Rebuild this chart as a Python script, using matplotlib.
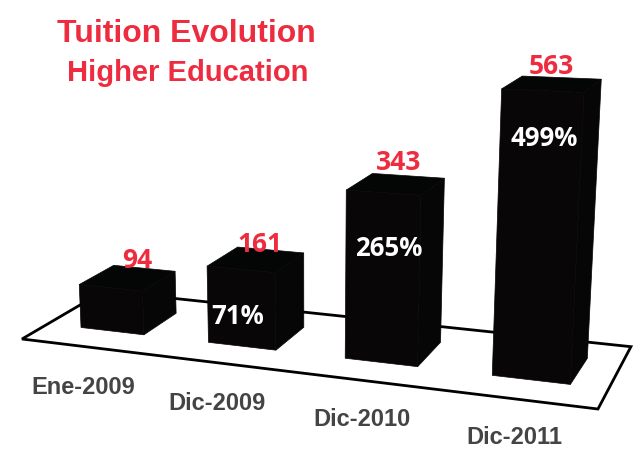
"""
Tuition evolution chart: perspective bars standing on a floor plate.
"""

import matplotlib
matplotlib.use("Agg")
import matplotlib.pyplot as plt
from matplotlib.patches import Polygon

# ── data ──────────────────────────────────────────────────────────────────────
categories = ["Ene-2009", "Dic-2009", "Dic-2010", "Dic-2011"]
values = [94, 161, 343, 563]
growth = [None, "71%", "265%", "499%"]

# ── colours ───────────────────────────────────────────────────────────────────
C_RED = "#EE2C3F"
C_GREY = "#444444"
C_FRONT = "#080606"
C_SIDE = "#060606"
C_TOP = "#040606"

# ── perspective: floor homography, unit square -> pixels ──────────────────────
H = [[492.9, 92.0, 22.0], [13.2, -20.0, 339.0], [-0.1389, 0.09623, 1.0]]
PX_PER_UNIT = 0.466
LEAN = 0.00018   # verticals converge upwards
LEAN_X0 = 310

BAR_U0 = 0.067
BAR_STEP = 0.249
BAR_W = 0.125
BAR_V = (0.30, 0.73)


def project(u, v, z=0.0):
    w = H[2][0] * u + H[2][1] * v + H[2][2]
    x = (H[0][0] * u + H[0][1] * v + H[0][2]) / w
    y = (H[1][0] * u + H[1][1] * v + H[1][2]) / w
    h = z * PX_PER_UNIT / w
    return x + (x - LEAN_X0) * LEAN * h, y - h


fig = plt.figure(figsize=(6.34, 4.62), dpi=100)
ax = fig.add_axes([0, 0, 1, 1])
ax.set_xlim(0, 634)
ax.set_ylim(462, 0)
ax.axis("off")

# floor plate
floor = [project(0, 0), project(1, 0), project(0.995, 1), project(0, 1)]
ax.add_patch(Polygon(floor, closed=True, facecolor="white", edgecolor="black",
                     linewidth=2.0, joinstyle="miter", zorder=1))

# bars
for i, val in enumerate(values):
    u0 = BAR_U0 + i * BAR_STEP
    u1 = u0 + BAR_W
    v0, v1 = BAR_V
    front = [project(u0, v0), project(u1, v0), project(u1, v0, val), project(u0, v0, val)]
    side = [project(u1, v0), project(u1, v1), project(u1, v1, val), project(u1, v0, val)]
    top = [project(u0, v0, val), project(u1, v0, val), project(u1, v1, val), project(u0, v1, val)]
    for pts, col in [(side, C_SIDE), (top, C_TOP), (front, C_FRONT)]:
        ax.add_patch(Polygon(pts, closed=True, facecolor=col, edgecolor=col,
                             linewidth=0.5, zorder=2 + i))

# titles
ax.text(186, 34, "Tuition Evolution", color=C_RED, fontsize=23, fontweight="bold",
        family="Liberation Sans", ha="center", va="center", zorder=10)
ax.text(188, 73, "Higher Education", color=C_RED, fontsize=21, fontweight="bold",
        family="Liberation Sans", ha="center", va="center", zorder=10)

# labels
value_xy = [(137, 261), (260, 245), (399, 162), (551, 66)]
growth_xy = [None, (238, 316), (389, 249), (544, 139)]
cat_xy = [(83, 387), (217, 403), (362, 420), (514, 438)]

for i, cat in enumerate(categories):
    ax.text(*value_xy[i], str(values[i]), color=C_RED, fontsize=19, fontweight="bold",
            family="Open Sans", ha="center", va="center", zorder=10)
    ax.text(*cat_xy[i], cat, color=C_GREY, fontsize=17, fontweight="bold",
            family="Liberation Sans", ha="center", va="center", zorder=10)
    if growth[i]:
        ax.text(*growth_xy[i], growth[i], color="white", fontsize=18.5, fontweight="bold",
                family="Open Sans", ha="center", va="center", zorder=10)

fig.savefig("out.png", dpi=100)
plt.close(fig)
